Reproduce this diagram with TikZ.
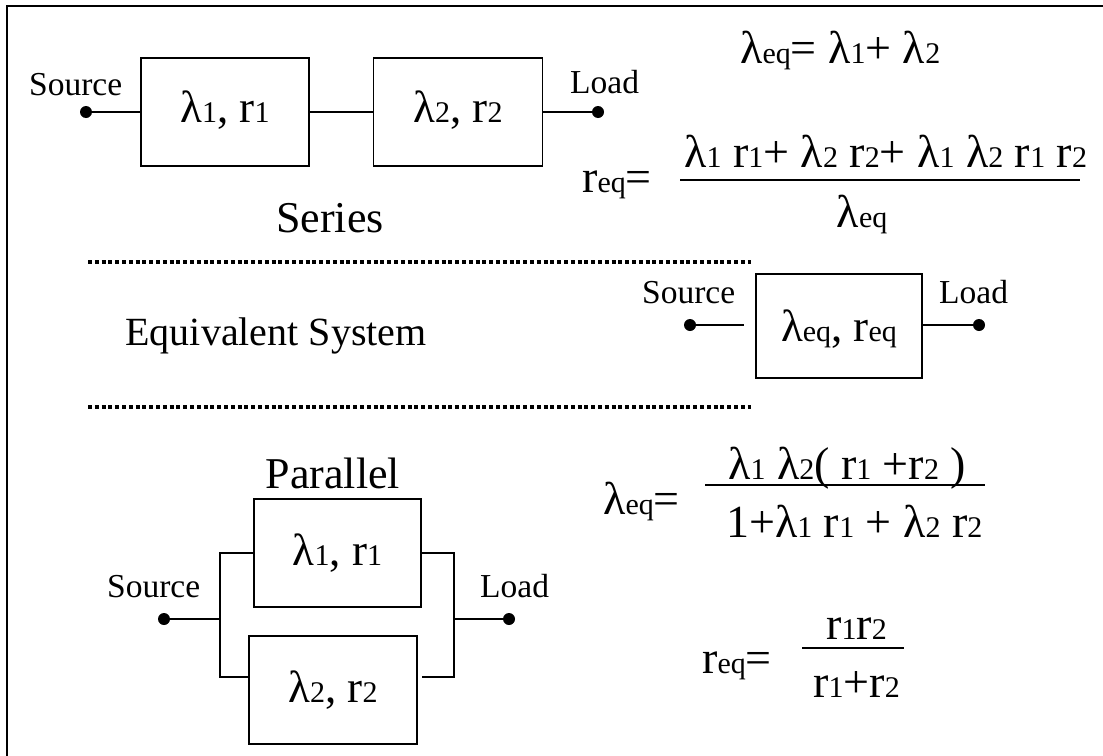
\documentclass[tikz,border=0pt]{standalone}
\usepackage{fontspec}
\setmainfont{Liberation Serif}
\newcommand\sm[1]{{\fontsize{30}{34}\selectfont #1}}
\begin{document}
\begin{tikzpicture}[x=1pt,y=-1pt,
  every node/.style={inner sep=0pt},
  eqtxt/.style={font=\fontsize{46}{54}\selectfont, anchor=base west},
  lbl/.style={font=\fontsize{33.5}{40}\selectfont, anchor=base west},
  head/.style={font=\fontsize{44}{52}\selectfont, anchor=base},
  blk/.style={draw, line width=1.8pt, font=\fontsize{45}{52}\selectfont, text height=32pt, text depth=12pt},
  dot/.style={circle, fill, minimum size=12pt},
  wire/.style={line width=1.8pt},
  fbar/.style={line width=2pt},
  sep/.style={line width=4pt, dash pattern=on 4pt off 2.8pt}]
\useasboundingbox (0,0) rectangle (1103,755);
\draw[line width=2.2pt] (7,760) -- (7,6) -- (1108,6);

% ---- Series ----
\node[lbl] (s1lab) at (29,95) {Source};
\node[dot] (s1) at (86,112) {};
\node[blk, minimum width=168pt, minimum height=108pt] (a1) at (225,112) {λ\sm{1}, r\sm{1}};
\node[blk, minimum width=169pt, minimum height=108pt] (a2) at (458,112) {λ\sm{2}, r\sm{2}};
\node[dot] (l1) at (598,112) {};
\node[lbl] (l1lab) at (570,93) {Load};
\draw[wire] (s1) -- (a1);
\draw[wire] (a1) -- (a2);
\draw[wire] (a2) -- (l1);
\node[head] (series) at (330,232) {Series};

\node[eqtxt] (e1) at (740,63) {λ\sm{eq}= λ\sm{1}+ λ\sm{2}};
\node[eqtxt] (e2) at (582,192) {r\sm{eq}=};
\node[eqtxt] (e2n) at (684,167) {λ\sm{1} r\sm{1}+ λ\sm{2} r\sm{2}+ λ\sm{1} λ\sm{2} r\sm{1} r\sm{2}};
\coordinate (b1a) at (680,180);
\coordinate (b1b) at (1080,180);
\draw[fbar] (b1a) -- (b1b);
\node[eqtxt, anchor=base] (e2d) at (862,227) {λ\sm{eq}};

% ---- separators ----
\coordinate (d1a) at (88,262);
\coordinate (d1b) at (751,262);
\coordinate (d2a) at (88,407);
\coordinate (d2b) at (751,407);
\draw[sep] (d1a) -- (d1b);
\draw[sep] (d2a) -- (d2b);

% ---- Equivalent ----
\node[head, font=\fontsize{40}{48}\selectfont] (equiv) at (276,345) {Equivalent System};
\node[lbl] (s2lab) at (642,303) {Source};
\node[dot] (s2) at (690,325) {};
\node[blk, minimum width=166pt, minimum height=104pt, text height=36pt, text depth=6pt] (eqb) at (839,326) {λ\sm{eq}, r\sm{eq}};
\node[dot] (l2) at (979,325) {};
\node[lbl] (l2lab) at (939,303) {Load};
\draw[wire, shorten >=11pt] (s2) -- (s2 -| eqb.west);
\draw[wire] (eqb.east |- l2) -- (l2);

% ---- Parallel ----
\node[head] (par) at (333,488) {Parallel};
\node[lbl] (s3lab) at (107,597) {Source};
\node[dot] (s3) at (164,619) {};
\node[blk, minimum width=167pt, minimum height=108pt, text height=32pt, text depth=8pt] (p1) at (337.5,553) {λ\sm{1}, r\sm{1}};
\node[blk, minimum width=168pt, minimum height=108pt, text height=32pt, text depth=8pt] (p2) at (333,690) {λ\sm{2}, r\sm{2}};
\node[dot] (l3) at (509,619) {};
\node[lbl] (l3lab) at (480,597) {Load};
\coordinate (jl) at (220,619);
\coordinate (jlt) at (220,553);
\coordinate (jlb) at (220,677);
\coordinate (jr) at (454,619);
\coordinate (jrt) at (454,553);
\coordinate (jrb) at (454,677);
\draw[wire] (s3) -- (jl);
\draw[wire] (p1.west) -- (jlt) -- (jlb) -- (jlb -| p2.west);
\draw[wire, shorten >=4pt] (p1.east) -- (jrt) -- (jrb) -- (jrb -| p2.east);
\draw[wire] (jr) -- (l3);

\node[eqtxt] (e3) at (603,514) {λ\sm{eq}=};
\node[eqtxt] (e3n) at (728,479) {λ\sm{1} λ\sm{2}( r\sm{1} +r\sm{2} )};
\coordinate (b2a) at (705,485);
\coordinate (b2b) at (985,485);
\draw[fbar] (b2a) -- (b2b);
\node[eqtxt] (e3d) at (726,537) {1+λ\sm{1} r\sm{1} + λ\sm{2} r\sm{2}};

\node[eqtxt] (e4) at (702,673) {r\sm{eq}=};
\node[eqtxt] (e4n) at (826,639) {r\sm{1}r\sm{2}};
\coordinate (b3a) at (802,648);
\coordinate (b3b) at (904,648);
\draw[fbar] (b3a) -- (b3b);
\node[eqtxt] (e4d) at (813,697) {r\sm{1}+r\sm{2}};
\end{tikzpicture}
\end{document}
